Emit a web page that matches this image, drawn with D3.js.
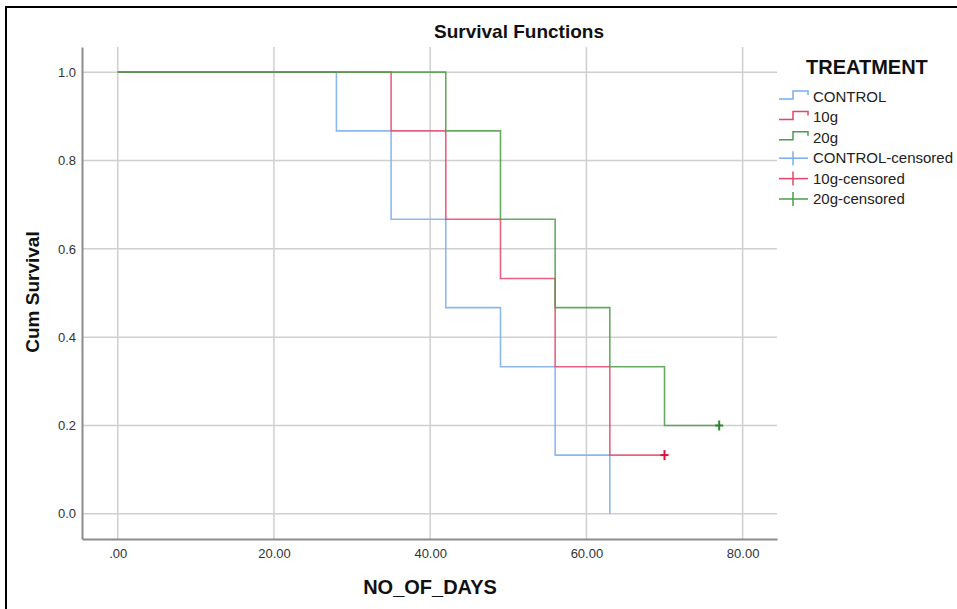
<!DOCTYPE html>
<html>
<head>
<meta charset="utf-8">
<script src="https://cdn.jsdelivr.net/npm/d3@7"></script>
<style>
  body { margin: 0; background: #fff; }
  svg { display: block; font-family: "Liberation Sans", Arial, sans-serif; }
</style>
</head>
<body>
<svg id="chart"></svg>
<script>
// Kaplan-Meier steps
const controlDays = [0, 28, 35, 42, 49, 56, 63];
const controlSurv = [1.0, 0.867, 0.667, 0.467, 0.333, 0.133, 0.0];
const g10Days = [0, 35, 42, 49, 56, 63, 70];
const g10Surv = [1.0, 0.867, 0.667, 0.533, 0.333, 0.133, 0.133];
const g20Days = [0, 42, 49, 56, 63, 70, 77];
const g20Surv = [1.0, 0.867, 0.667, 0.467, 0.333, 0.2, 0.2];
const censored = [
    { group: "10g", day: 70, surv: 0.133 },
    { group: "20g", day: 77, surv: 0.2 }
];
const xTicks = [0, 20, 40, 60, 80];
const yTicks = [0, 0.2, 0.4, 0.6, 0.8, 1.0];
const groups = ["CONTROL", "10g", "20g"];

const colors = { "CONTROL": "#78acf0", "10g": "#e5456a", "20g": "#4c9c48" };
const censorColors = { "CONTROL": "#78acf0", "10g": "#e0103c", "20g": "#2d862d" };

const width = 957, height = 609;
const svg = d3.select("#chart").attr("width", width).attr("height", height);

// outer frame
svg.append("rect")
   .attr("x", 6).attr("y", 7)
   .attr("width", 960).attr("height", 620)
   .attr("fill", "none")
   .attr("stroke", "#000")
   .attr("stroke-width", 2);

const plot = { left: 82, right: 777, top: 47, bottom: 539 };

const x = d3.scaleLinear().domain([-4.57, 84.4]).range([plot.left, plot.right]);
const y = d3.scaleLinear().domain([-0.057, 1.057]).range([plot.bottom, plot.top]);

// gridlines
svg.append("g")
   .selectAll("line")
   .data(yTicks)
   .join("line")
   .attr("x1", plot.left).attr("x2", plot.right)
   .attr("y1", d => y(d)).attr("y2", d => y(d))
   .attr("stroke", "#cfcfcf").attr("stroke-width", 1.5);

svg.append("g")
   .selectAll("line")
   .data(xTicks)
   .join("line")
   .attr("x1", d => x(d)).attr("x2", d => x(d))
   .attr("y1", plot.top).attr("y2", plot.bottom)
   .attr("stroke", "#cfcfcf").attr("stroke-width", 1.5);

// axes
const xAxis = svg.append("g")
   .attr("transform", `translate(0, ${plot.bottom})`)
   .call(d3.axisBottom(x).tickValues(xTicks).tickSize(0).tickPadding(10)
       .tickFormat(d => d === 0 ? ".00" : d3.format(".2f")(d)));
xAxis.select(".domain").attr("stroke", "#8c8c8c").attr("stroke-width", 2);

const yAxis = svg.append("g")
   .attr("transform", `translate(${plot.left}, 0)`)
   .call(d3.axisLeft(y).tickValues(yTicks).tickSize(0).tickPadding(6)
       .tickFormat(d3.format(".1f")));
yAxis.select(".domain").attr("stroke", "#8c8c8c").attr("stroke-width", 2);

svg.selectAll(".tick text")
   .attr("fill", "#333")
   .style("font-size", "13px")
   .style("font-family", "Liberation Sans, Arial, sans-serif");

// survival curves
const series = [
    { name: "CONTROL", pts: controlDays.map((d, i) => [d, controlSurv[i]]) },
    { name: "10g", pts: g10Days.map((d, i) => [d, g10Surv[i]]) },
    { name: "20g", pts: g20Days.map((d, i) => [d, g20Surv[i]]) }
];

const line = d3.line()
   .x(d => x(d[0]))
   .y(d => y(d[1]))
   .curve(d3.curveStepAfter);

svg.append("g")
   .selectAll("path")
   .data(series)
   .join("path")
   .attr("fill", "none")
   .attr("stroke", d => colors[d.name])
   .attr("stroke-width", 1.6)
   .attr("stroke-opacity", 0.85)
   .attr("d", d => line(d.pts));

// censored markers
const marks = svg.append("g");
censored.forEach(c => {
    marks.append("line")
       .attr("x1", x(c.day) - 4).attr("x2", x(c.day) + 4)
       .attr("y1", y(c.surv)).attr("y2", y(c.surv))
       .attr("stroke", censorColors[c.group]).attr("stroke-width", 2);
    marks.append("line")
       .attr("x1", x(c.day)).attr("x2", x(c.day))
       .attr("y1", y(c.surv) - 5).attr("y2", y(c.surv) + 5)
       .attr("stroke", censorColors[c.group]).attr("stroke-width", 2);
});

// titles
svg.append("text")
   .attr("x", 519).attr("y", 38)
   .attr("text-anchor", "middle")
   .style("font-size", "19px").style("font-weight", "bold")
   .attr("fill", "#111")
   .text("Survival Functions");

svg.append("text")
   .attr("transform", `translate(39, 292) rotate(-90)`)
   .attr("text-anchor", "middle")
   .style("font-size", "19px").style("font-weight", "bold")
   .attr("fill", "#111")
   .text("Cum Survival");

svg.append("text")
   .attr("x", 430).attr("y", 594)
   .attr("text-anchor", "middle")
   .style("font-size", "20px").style("font-weight", "bold")
   .attr("fill", "#111")
   .text("NO_OF_DAYS");

// legend
const legend = svg.append("g");
legend.append("text")
   .attr("x", 806).attr("y", 74)
   .style("font-size", "20px").style("font-weight", "bold")
   .attr("fill", "#111")
   .text("TREATMENT");

const rowY = d3.scalePoint()
   .domain(d3.range(6))
   .range([97, 199]);

groups.forEach((g, i) => {
    const cy = rowY(i);
    legend.append("path")
       .attr("fill", "none")
       .attr("stroke", colors[g])
       .attr("stroke-width", 1.5)
       .attr("d", `M779,${cy + 2}H793V${cy - 6}H808V${cy - 2}`);
    legend.append("text")
       .attr("x", 813).attr("y", cy + 5)
       .style("font-size", "15px").attr("fill", "#222")
       .text(g);
});

groups.forEach((g, i) => {
    const cy = rowY(i + 3);
    legend.append("line")
       .attr("x1", 779).attr("x2", 808).attr("y1", cy).attr("y2", cy)
       .attr("stroke", colors[g]).attr("stroke-width", 1.5);
    legend.append("line")
       .attr("x1", 793).attr("x2", 793).attr("y1", cy - 7).attr("y2", cy + 7)
       .attr("stroke", colors[g]).attr("stroke-width", 1.5);
    legend.append("text")
       .attr("x", 813).attr("y", cy + 5)
       .style("font-size", "15px").attr("fill", "#222")
       .text(g + "-censored");
});
</script>
</body>
</html>
